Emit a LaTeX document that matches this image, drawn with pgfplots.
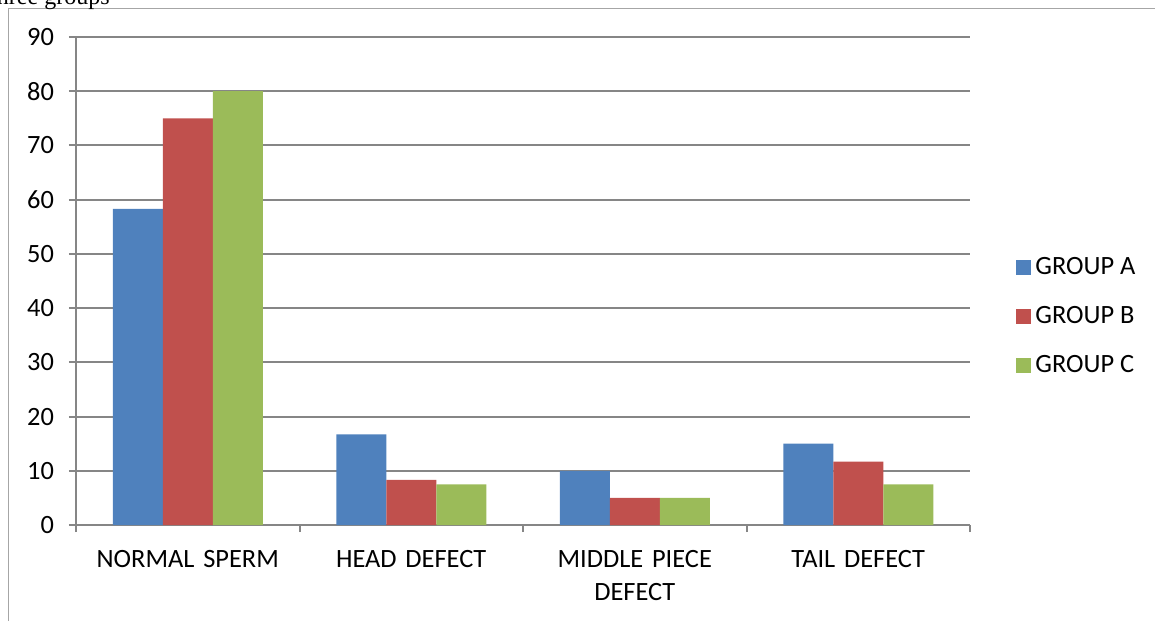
\documentclass[border=0pt]{standalone}
\usepackage{fontspec}
\setmainfont{Carlito}
\newfontfamily\seriffont{Liberation Serif}
\usepackage{pgfplots}
\pgfplotsset{compat=1.18}

\definecolor{grpA}{HTML}{4F81BD}
\definecolor{grpB}{HTML}{C0504D}
\definecolor{grpC}{HTML}{9BBB59}
\definecolor{gridgray}{HTML}{868686}

\pgfplotstableread{
x  A     B     C
0  58.3  75.0  80.0
1  16.7  8.3   7.5
2  10.0  5.0   5.0
3  15.0  11.7  7.5
}\morph

\begin{document}
\begin{tikzpicture}[x=0.5pt,y=0.5pt]
\useasboundingbox (0,0) rectangle (1155,621);
% page frame
\draw[color=gray!70, line width=0.5pt] (8.5,0) -- (8.5,612.5) -- (1155,612.5);
\begin{scope}
\clip (0,0) rectangle (1155,621);
\node[anchor=base east, inner sep=0pt, font=\seriffont\fontsize{12}{14}\selectfont] at (110,616) {three groups};
\end{scope}
\begin{axis}[
  at={(38pt,48pt)}, anchor=south west,
  scale only axis,
  width=447pt, height=244pt,
  ybar=0pt, bar width=25pt,
  xmin=-0.5, xmax=3.5,
  ymin=0, ymax=90,
  ytick={0,10,...,90},
  xtick={0,1,2,3},
  xticklabels={NORMAL SPERM, HEAD DEFECT, {MIDDLE PIECE\\DEFECT}, TAIL DEFECT},
  minor xtick={-0.5,0.5,1.5,2.5,3.5},
  major x tick style={draw=none},
  tick align=outside,
  major tick length=3.5pt, minor tick length=3.5pt,
  tick style={color=gridgray, line width=1pt},
  axis x line*=bottom, axis y line*=left,
  axis line style={color=gridgray, line width=1pt, -},
  ymajorgrids, grid style={color=gridgray, line width=1pt},
  /pgf/number format/assume math mode=true,
  tick label style={font=\fontsize{13.2}{16.5}\selectfont, text=black},
  xticklabel style={text width=120pt, align=center, yshift=-5.5pt},
  yticklabel style={xshift=-4pt},
  legend style={at={(1.0447,0.428)}, anchor=west, draw=none, fill=none,
    font=\fontsize{13.2}{15}\selectfont, row sep=10.5pt,
    legend cell align=left},
  legend image code/.code={\fill[#1] (0pt,-3.75pt) rectangle (7.5pt,3.75pt);},
]
\addplot[fill=grpA, draw=none] table[x=x, y=A] {\morph};
\addplot[fill=grpB, draw=none] table[x=x, y=B] {\morph};
\addplot[fill=grpC, draw=none] table[x=x, y=C] {\morph};
\legend{GROUP A, GROUP B, GROUP C}
\end{axis}
\end{tikzpicture}
\end{document}
